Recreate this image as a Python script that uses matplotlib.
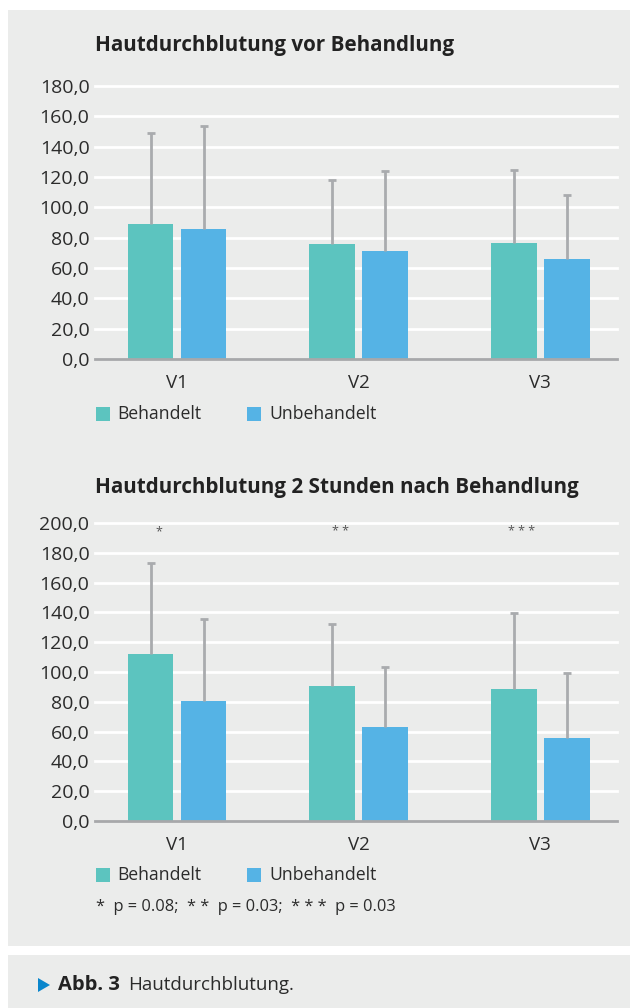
import matplotlib
matplotlib.use("Agg")
import matplotlib.pyplot as plt
from matplotlib.patches import Rectangle, Polygon
import numpy as np

# ---------------- data ----------------
categories = ["V1", "V2", "V3"]
series_names = ["Behandelt", "Unbehandelt"]

pre_behandelt = [89.0, 75.9, 76.5]
pre_behandelt_sd = [60.3, 42.3, 48.0]
pre_unbehandelt = [85.7, 71.3, 66.0]
pre_unbehandelt_sd = [67.8, 52.6, 42.1]

post_behandelt = [112.2, 90.6, 88.7]
post_behandelt_sd = [60.7, 41.6, 50.8]
post_unbehandelt = [80.5, 63.1, 55.8]
post_unbehandelt_sd = [55.3, 40.4, 43.7]

pre_ticks = [0, 20, 40, 60, 80, 100, 120, 140, 160, 180]
post_ticks = [0, 20, 40, 60, 80, 100, 120, 140, 160, 180, 200]
post_stars = ["*", "* *", "* * *"]
star_level = 194

title_pre = "Hautdurchblutung vor Behandlung"
title_post = "Hautdurchblutung 2 Stunden nach Behandlung"
footnote = "*  p = 0.08;  * *  p = 0.03;  * * *  p = 0.03"
caption_bold = "Abb. 3"
caption_text = "Hautdurchblutung."

# ---------------- style ----------------
W, H = 638, 1008
BG = "#ebeceb"
C_B = "#5cc4bf"
C_U = "#55b3e5"
C_ERR = "#a9abae"
C_AX = "#a7a8aa"
TXT = "#2b2b2b"
FONT = "Open Sans"
plt.rcParams["font.family"] = [FONT, "DejaVu Sans"]

fig = plt.figure(figsize=(W / 100, H / 100), dpi=100)
fig.patch.set_facecolor("white")


def fx(px):
    return px / W


def fy(py):
    return 1 - py / H


# background panels
fig.patches.append(Rectangle((fx(8), fy(946)), fx(630) - fx(8), fy(10) - fy(946),
                             transform=fig.transFigure, facecolor=BG, edgecolor="none", zorder=-5))
fig.patches.append(Rectangle((fx(8), fy(1008)), fx(630) - fx(8), fy(955) - fy(1008),
                             transform=fig.transFigure, facecolor=BG, edgecolor="none", zorder=-5))

x = np.arange(len(categories))
bw = 0.253
off = 0.146
XL = (-0.452, 2.424)


def upper_err(ax, xs, means, sds):
    means = np.asarray(means)
    tops = means + np.asarray(sds)
    ax.vlines(xs, means, tops, colors=C_ERR, lw=2.0, zorder=3)
    ax.plot(xs, tops, ls="none", marker="_", ms=6, mew=2.0, color=C_ERR, zorder=3)


def make_axes(top_px, bottom_px, ymax, ticks, b, bsd, u, usd):
    ax = fig.add_axes([fx(95), fy(bottom_px), fx(617) - fx(95), fy(top_px) - fy(bottom_px)])
    ax.set_facecolor("none")
    ax.set_zorder(1)
    ax.set_xlim(*XL)
    ax.set_ylim(0, ymax)
    for t in ticks[1:]:
        ax.axhline(t, color="white", lw=2.0, zorder=1, clip_on=False)
    ax.bar(x - off, b, bw, color=C_B, zorder=2)
    ax.bar(x + off, u, bw, color=C_U, zorder=2)
    upper_err(ax, x - off, b, bsd)
    upper_err(ax, x + off, u, usd)
    for s in ["top", "right", "left"]:
        ax.spines[s].set_visible(False)
    ax.spines["bottom"].set_color(C_AX)
    ax.spines["bottom"].set_linewidth(2.0)
    ax.spines["bottom"].set_zorder(4)
    ax.set_yticks(ticks)
    ax.set_yticklabels([f"{t:.1f}".replace(".", ",") for t in ticks])
    ax.set_xticks(x)
    ax.set_xticklabels(categories)
    ax.tick_params(axis="y", length=0, pad=4, labelsize=14, labelcolor=TXT)
    ax.tick_params(axis="x", length=0, pad=11, labelsize=13.5, labelcolor=TXT)
    return ax


ax1 = make_axes(86, 359, 180, pre_ticks, pre_behandelt, pre_behandelt_sd,
                pre_unbehandelt, pre_unbehandelt_sd)
ax2 = make_axes(523, 821, 200, post_ticks, post_behandelt, post_behandelt_sd,
                post_unbehandelt, post_unbehandelt_sd)

for i, s in enumerate(post_stars):
    ax2.text(x[i] - 0.1, star_level, s, ha="center", va="center", fontsize=9, color="#555555", zorder=5)

# titles
fig.text(fx(95), fy(45), title_pre, ha="left", va="center", fontsize=14.9,
         fontweight="bold", color="#222222")
fig.text(fx(95), fy(488), title_post, ha="left", va="center", fontsize=14.9,
         fontweight="bold", color="#222222")


# legends
def legend(yc):
    for (sx, tx, name, col) in [(96, 117, series_names[0], C_B), (247, 269, series_names[1], C_U)]:
        fig.patches.append(Rectangle((fx(sx), fy(yc + 7)), fx(14), 14 / H,
                                     transform=fig.transFigure, facecolor=col, edgecolor="none"))
        fig.text(fx(tx), fy(yc), name, ha="left", va="center", fontsize=12.7, color=TXT)


legend(414)
legend(875)

fig.text(fx(96), fy(907), footnote, ha="left", va="center", fontsize=11.8, color=TXT)

# caption
fig.patches.append(Polygon([[fx(38), fy(978)], [fx(38), fy(992)], [fx(50), fy(985)]], closed=True,
                           transform=fig.transFigure, facecolor="#0a86cc", edgecolor="none"))
fig.text(fx(58), fy(985), caption_bold, ha="left", va="center", fontsize=14.5,
         fontweight="bold", color="#222222")
fig.text(fx(128), fy(985), caption_text, ha="left", va="center", fontsize=13.5, color=TXT)

fig.savefig("out.png", dpi=100, facecolor=fig.get_facecolor())
